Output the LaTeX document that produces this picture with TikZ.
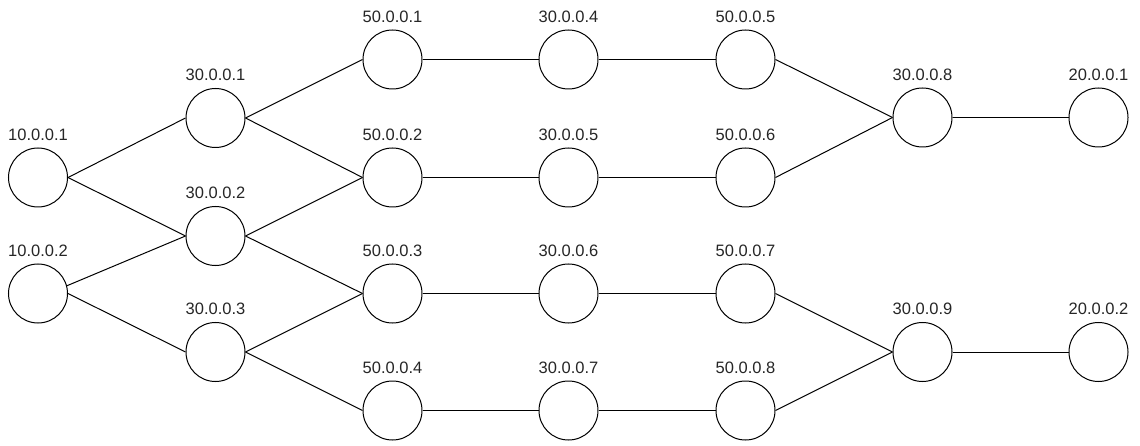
\documentclass[tikz,border=0pt]{standalone}
\usepackage{fontspec}
\setmainfont{Liberation Sans}
\begin{document}
\begin{tikzpicture}[x=1pt,y=-1pt,
  host/.style={circle,draw=black,line width=1pt,minimum size=59pt,inner sep=0pt,fill=white},
  lbl/.style={font=\fontsize{16.5}{19}\selectfont,text=black!85,inner sep=0pt},
  link/.style={draw=black,line width=1pt}]
\useasboundingbox (0,0) rectangle (1140,446);
\def\hostnode#1#2#3#4{\node[host] (#1) at (#2,#3) {};\node[lbl] (#1l) at (#2,#3-43) {#4};}
\hostnode{a1}{38}{177.5}{10.0.0.1}
\hostnode{a2}{38}{293.5}{10.0.0.2}
\hostnode{b1}{215.5}{118}{30.0.0.1}
\hostnode{b2}{215.5}{236}{30.0.0.2}
\hostnode{b3}{215.5}{352}{30.0.0.3}
\hostnode{c1}{392.5}{59.5}{50.0.0.1}
\hostnode{c2}{392.5}{177.5}{50.0.0.2}
\hostnode{c3}{392.5}{293.5}{50.0.0.3}
\hostnode{c4}{392.5}{410.5}{50.0.0.4}
\hostnode{d1}{568.5}{59.5}{30.0.0.4}
\hostnode{d2}{568.5}{177.5}{30.0.0.5}
\hostnode{d3}{568.5}{293.5}{30.0.0.6}
\hostnode{d4}{568.5}{410.5}{30.0.0.7}
\hostnode{e1}{745.5}{59.5}{50.0.0.5}
\hostnode{e2}{745.5}{177.5}{50.0.0.6}
\hostnode{e3}{745.5}{293.5}{50.0.0.7}
\hostnode{e4}{745.5}{410.5}{50.0.0.8}
\hostnode{f1}{922.5}{117.5}{30.0.0.8}
\hostnode{f2}{922.5}{352}{30.0.0.9}
\hostnode{g1}{1098.5}{117.5}{20.0.0.1}
\hostnode{g2}{1098.5}{352}{20.0.0.2}
\path[link] (a1.east) -- (b1.west);
\path[link] (a1.east) -- (b2.west);
\path[link] (a2.15) -- (b2.west);
\path[link] (a2.east) -- (b3.west);
\path[link] (b1.east) -- (c1.west);
\path[link] (b1.east) -- (c2.west);
\path[link] (b2.east) -- (c2.west);
\path[link] (b2.east) -- (c3.west);
\path[link] (b3.east) -- (c3.west);
\path[link] (b3.east) -- (c4.west);
\path[link] (c1.east) -- (d1.west);
\path[link] (c2.east) -- (d2.west);
\path[link] (c3.east) -- (d3.west);
\path[link] (c4.east) -- (d4.west);
\path[link] (d1.east) -- (e1.west);
\path[link] (d2.east) -- (e2.west);
\path[link] (d3.east) -- (e3.west);
\path[link] (d4.east) -- (e4.west);
\path[link] (e1.east) -- (f1.west);
\path[link] (e2.east) -- (f1.west);
\path[link] (e3.east) -- (f2.west);
\path[link] (e4.east) -- (f2.west);
\path[link] (f1.east) -- (g1.west);
\path[link] (f2.east) -- (g2.west);
\end{tikzpicture}
\end{document}
